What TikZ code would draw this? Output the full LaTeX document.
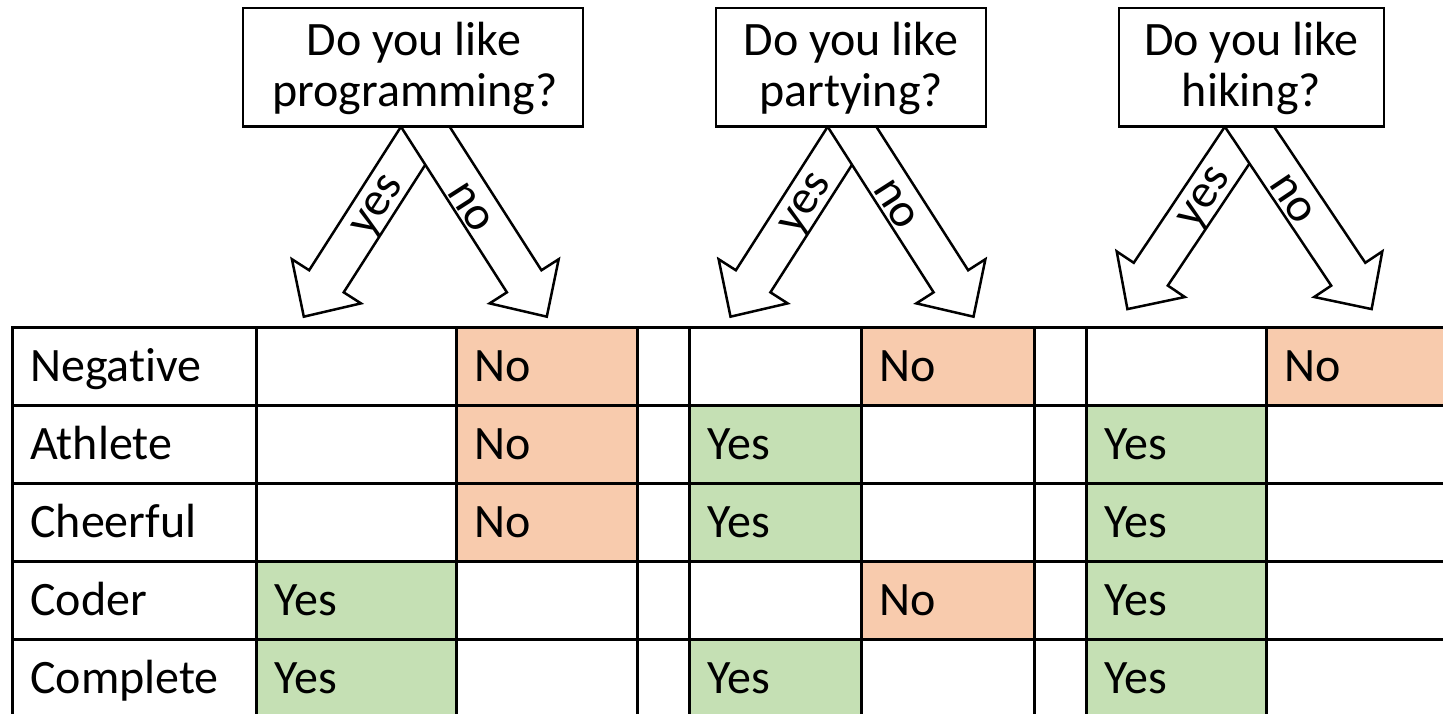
\documentclass[tikz,border=0pt]{standalone}
\usepackage{fontspec}
\setmainfont{Carlito}[Ligatures=NoCommon]
\definecolor{nofill}{HTML}{F8CBAD}
\definecolor{yesfill}{HTML}{C5E0B4}
\tikzset{
  bigfont/.style={font=\fontsize{24pt}{26pt}\selectfont},
  qbox/.style={draw, fill=white, line width=1.25pt, inner sep=0pt},
  qtext/.style={bigfont, anchor=base, inner sep=0pt},
  blockarrow/.style={draw, fill=white, line width=1.25pt, line join=miter},
  albl/.style={bigfont, anchor=base, inner sep=0pt},
  tcell/.style={draw, line width=1.3pt, anchor=north west, inner xsep=9pt, inner ysep=0pt,
    minimum height=39pt, text height=15.2pt, text depth=0pt, align=left, bigfont},
  nocell/.style={fill=nofill},
  yescell/.style={fill=yesfill},
  colA/.style={minimum width=122pt, text width=104pt},
  colB/.style={minimum width=100pt, text width=82pt},
  colC/.style={minimum width=90.5pt, text width=72.5pt},
  colG/.style={minimum width=26pt, text width=8pt},
  colD/.style={minimum width=86pt, text width=68pt},
  colE/.style={minimum width=86.5pt, text width=68.5pt},
  colF/.style={minimum width=90pt, text width=72pt},
  colH/.style={minimum width=92pt, text width=74pt},
}
\newcommand{\qarrow}[6]{%
  \begin{scope}[shift={(#1)}, rotate=#2]
    \draw[blockarrow] (-30,20.5) -- (#3,20.5) -- (#3,41) -- ({#3+42},0) -- (#3,-41) -- (#3,-20.5) -- (-30,-20.5) -- cycle;
    \coordinate (#4) at (#5,#6);
  \end{scope}}
\begin{document}
\begin{tikzpicture}[x=0.5pt, y=-0.5pt]
\clip (0,0) rectangle (1443,713);
\fill[white] (0,0) rectangle (1443,713);

% origins of the arrows on the box bottoms
\coordinate (P1) at (425.3,126.7);
\coordinate (P2) at (852,126.7);
\coordinate (P3) at (1249.5,126.7);

% arrows: yes first, then no on top
\qarrow{P1}{-122.6}{183.5}{Y1}{92}{-13}
\qarrow{P1}{-57.4}{183.5}{N1}{92}{17}
\qarrow{P2}{-122.6}{183.5}{Y2}{90}{-13}
\qarrow{P2}{-57.4}{183.5}{N2}{89}{17}
\qarrow{P3}{-123.8}{177.5}{Y3}{84}{-13}
\qarrow{P3}{-56.2}{177.5}{N3}{84}{17}

\node[albl, rotate=57.4] (ly1) at (Y1) {yes};
\node[albl, rotate=-57.4] (ln1) at (N1) {no};
\node[albl, rotate=57.4] (ly2) at (Y2) {yes};
\node[albl, rotate=-57.4] (ln2) at (N2) {no};
\node[albl, rotate=56.2] (ly3) at (Y3) {yes};
\node[albl, rotate=-56.2] (ln3) at (N3) {no};

% question boxes
\node[qbox, minimum width=170pt, minimum height=59.35pt] (q1) at (413,67.35) {};
\node[qtext] (q1a) at (414,55) {Do you like};
\node[qtext] (q1b) at (415,106) {programming?};
\node[qbox, minimum width=135pt, minimum height=59.35pt] (q2) at (851,67.35) {};
\node[qtext] (q2a) at (851,55) {Do you like};
\node[qtext] (q2b) at (851,106) {partying?};
\node[qbox, minimum width=132.5pt, minimum height=59.35pt] (q3) at (1251.5,67.35) {};
\node[qtext] (q3a) at (1251.5,55) {Do you like};
\node[qtext] (q3b) at (1251.5,106) {hiking?};

% table row 1
\node[tcell,colA] (r1c0) at (11,326) {Negative};
\node[tcell,colB] (r1c1) at (255,326) {};
\node[tcell,colC,nocell] (r1c2) at (455,326) {No};
\node[tcell,colG] (r1c3) at (636,326) {};
\node[tcell,colD] (r1c4) at (688,326) {};
\node[tcell,colE,nocell] (r1c5) at (860,326) {No};
\node[tcell,colG] (r1c6) at (1033,326) {};
\node[tcell,colF] (r1c7) at (1085,326) {};
\node[tcell,colH,nocell] (r1c8) at (1265,326) {No};
% row 2
\node[tcell,colA] (r2c0) at (11,404) {Athlete};
\node[tcell,colB] (r2c1) at (255,404) {};
\node[tcell,colC,nocell] (r2c2) at (455,404) {No};
\node[tcell,colG] (r2c3) at (636,404) {};
\node[tcell,colD,yescell] (r2c4) at (688,404) {Yes};
\node[tcell,colE] (r2c5) at (860,404) {};
\node[tcell,colG] (r2c6) at (1033,404) {};
\node[tcell,colF,yescell] (r2c7) at (1085,404) {Yes};
\node[tcell,colH] (r2c8) at (1265,404) {};
% row 3
\node[tcell,colA] (r3c0) at (11,482) {Cheerful};
\node[tcell,colB] (r3c1) at (255,482) {};
\node[tcell,colC,nocell] (r3c2) at (455,482) {No};
\node[tcell,colG] (r3c3) at (636,482) {};
\node[tcell,colD,yescell] (r3c4) at (688,482) {Yes};
\node[tcell,colE] (r3c5) at (860,482) {};
\node[tcell,colG] (r3c6) at (1033,482) {};
\node[tcell,colF,yescell] (r3c7) at (1085,482) {Yes};
\node[tcell,colH] (r3c8) at (1265,482) {};
% row 4
\node[tcell,colA] (r4c0) at (11,560) {Coder};
\node[tcell,colB,yescell] (r4c1) at (255,560) {Yes};
\node[tcell,colC] (r4c2) at (455,560) {};
\node[tcell,colG] (r4c3) at (636,560) {};
\node[tcell,colD] (r4c4) at (688,560) {};
\node[tcell,colE,nocell] (r4c5) at (860,560) {No};
\node[tcell,colG] (r4c6) at (1033,560) {};
\node[tcell,colF,yescell] (r4c7) at (1085,560) {Yes};
\node[tcell,colH] (r4c8) at (1265,560) {};
% row 5
\node[tcell,colA] (r5c0) at (11,638) {Complete};
\node[tcell,colB,yescell] (r5c1) at (255,638) {Yes};
\node[tcell,colC] (r5c2) at (455,638) {};
\node[tcell,colG] (r5c3) at (636,638) {};
\node[tcell,colD,yescell] (r5c4) at (688,638) {Yes};
\node[tcell,colE] (r5c5) at (860,638) {};
\node[tcell,colG] (r5c6) at (1033,638) {};
\node[tcell,colF,yescell] (r5c7) at (1085,638) {Yes};
\node[tcell,colH] (r5c8) at (1265,638) {};
\end{tikzpicture}
\end{document}
